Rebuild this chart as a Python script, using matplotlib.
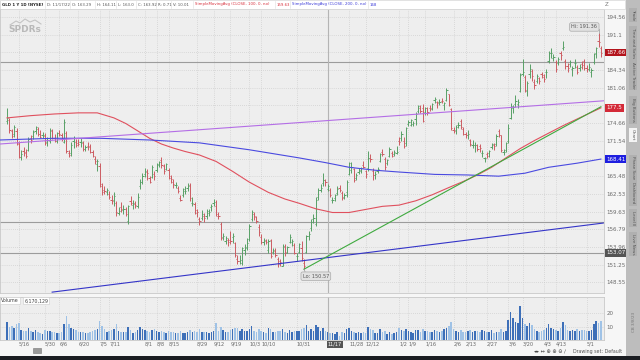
import numpy as np
import pandas as pd
import matplotlib
matplotlib.use("Agg")
import matplotlib.pyplot as plt
from matplotlib.patches import Rectangle
from matplotlib.ticker import NullLocator

# GLD daily bars, 1 year (5/6/2022 - 5/5/2023)
holidays = ["2022-05-30", "2022-06-20", "2022-07-04", "2022-09-05", "2022-11-24",
            "2022-12-26", "2023-01-02", "2023-01-16", "2023-02-20", "2023-04-07"]

opens = [175.0,
         175.2, 173.2, 172.8, 173.3, 171.0,  168.8, 169.8, 169.6, 170.0, 172.0,
         172.4, 173.2, 173.6, 172.8, 172.6,  172.4, 171.3, 171.6, 173.2,
         172.0, 171.5, 173.0, 172.6, 171.3,  173.0, 169.4, 169.5, 171.6, 171.3,
         171.2, 171.3, 171.2, 170.2,  170.6, 170.6, 169.6, 168.4, 167.6,
         167.3, 163.8, 163.2, 162.9,  162.6, 161.6, 161.6, 161.0, 159.4,
         160.4, 159.9, 160.0, 158.2, 161.4,  160.7, 160.9, 160.6, 163.8, 164.5,
         165.9, 166.2, 165.2, 165.3, 165.8,  166.6, 167.4, 168.2, 167.3, 166.7,
         166.5, 165.2, 164.6, 164.0, 163.5,  161.9, 162.3, 163.0, 163.5, 164.0,
         161.1, 160.9, 159.9, 158.4, 158.6,  158.9, 158.9, 159.5, 160.4,
         161.1, 160.6, 159.0, 157.6, 155.6,  155.0, 155.1, 155.1, 155.6, 154.6,
         152.1, 151.9, 151.5, 153.6, 154.0,  155.2, 158.4, 159.2, 158.8, 157.1,
         155.6, 154.8, 154.9, 153.6, 155.1,  153.2, 153.4, 152.2, 151.8, 151.1,
         154.0, 153.1, 154.8, 154.8, 154.3,  152.6, 153.2, 153.8, 151.5, 153.2,
         155.7, 157.0, 158.4, 157.7, 162.1,  163.2, 164.4, 164.8, 163.29, 163.2,
         161.5, 161.9, 162.7, 163.6,  162.7, 162.1, 162.8, 165.8, 166.6,
         166.7, 165.2, 166.2, 166.4, 167.4,  166.4, 166.8, 168.5, 166.4, 165.7,
         166.3, 168.1, 169.7, 168.4, 167.7,  168.9, 169.4, 169.2, 169.5,
         171.6, 172.1, 171.6, 171.1,  174.5, 174.4, 174.5, 175.4, 176.9,
         177.3, 177.3, 176.7, 177.3,  177.4, 177.2, 178.9, 178.4, 178.4,
         178.7, 178.0, 178.9, 179.9, 177.2,  173.4, 173.4, 174.3, 175.0, 173.7,
         172.8, 172.5, 171.7, 170.9, 170.8,  170.8, 170.6, 169.4, 168.5,
         169.3, 169.4, 170.5, 170.9, 171.0,  173.3, 172.5, 169.6, 169.9, 171.6,
         175.6, 177.4, 178.1, 178.1, 180.5,  183.6, 183.0, 180.4, 183.6, 184.2,
         182.1, 182.4, 182.8, 183.7, 183.1,  184.0, 186.0, 187.6, 186.7,
         185.8, 185.6, 187.5, 188.6, 186.1,  185.1, 185.4, 184.5, 185.6, 184.9,
         184.7, 185.5, 186.0, 184.8, 184.6,  184.0, 185.9, 187.5, 189.8, 188.6]

highs = [177.3,
         175.6, 173.7, 174.4, 173.8, 171.5,  170.0, 170.4, 170.2, 172.2, 172.6,
         173.4, 174.2, 174.0, 173.4, 173.1,  172.9, 172.2, 173.8, 173.6,
         172.8, 173.1, 173.5, 173.0, 175.4,  173.3, 169.9, 171.3, 172.4, 171.9,
         171.8, 172.0, 171.6, 170.9,  171.4, 171.0, 170.0, 168.9, 168.4,
         167.8, 164.4, 163.8, 163.6,  163.0, 162.4, 162.8, 161.3, 160.4,
         161.2, 160.8, 160.4, 160.8, 162.2,  161.5, 161.3, 162.7, 165.0, 166.0,
         166.8, 166.7, 165.6, 167.4, 166.3,  167.8, 168.1, 168.8, 167.6, 167.7,
         166.8, 165.7, 165.1, 164.6, 163.8,  162.4, 163.6, 163.9, 164.3, 164.3,
         162.0, 161.2, 160.1, 158.8, 159.9,  159.4, 160.0, 160.1, 160.9,
         161.7, 161.6, 159.6, 157.9, 156.2,  155.8, 155.4, 156.6, 156.2, 154.8,
         152.8, 152.8, 154.0, 154.4, 155.4,  157.6, 159.9, 159.6, 159.0, 157.6,
         156.0, 155.4, 155.3, 155.3, 155.3,  153.8, 153.8, 152.5, 152.2, 154.4,
         154.4, 154.2, 156.1, 155.3, 154.6,  153.1, 154.6, 154.9, 152.1, 155.9,
         156.6, 158.4, 159.2, 162.0, 163.5,  164.2, 166.0, 165.1, 164.11, 163.6,
         162.1, 162.6, 163.8, 164.0,  163.1, 162.7, 164.9, 167.9, 167.9,
         166.9, 166.1, 166.9, 167.1, 168.0,  166.6, 169.8, 169.2, 166.9, 166.3,
         167.0, 169.5, 170.2, 168.7, 168.4,  170.5, 169.8, 169.9, 170.6,
         172.3, 173.3, 172.2, 174.0,  175.3, 175.4, 175.1, 176.6, 177.9,
         177.9, 178.1, 177.6, 177.6,  178.0, 178.2, 179.4, 178.7, 179.0,
         179.1, 178.5, 181.1, 180.0, 177.4,  174.0, 174.3, 174.8, 175.4, 174.0,
         173.1, 173.5, 171.9, 171.7, 171.4,  171.0, 171.0, 170.0, 168.8,
         169.7, 169.9, 171.2, 171.2, 172.7,  173.7, 172.6, 170.1, 171.4, 174.5,
         178.2, 178.0, 179.7, 179.0, 183.8,  186.5, 183.4, 182.3, 185.4, 184.6,
         182.6, 183.6, 183.1, 184.0, 183.6,  184.5, 187.9, 188.5, 187.4,
         186.2, 186.8, 188.0, 189.9, 186.5,  185.6, 186.3, 185.1, 186.4, 185.3,
         185.4, 186.0, 186.4, 185.3, 185.6,  184.8, 187.5, 188.8, 191.36, 188.9]

lows = [174.6,
        173.0, 172.0, 172.3, 170.8, 168.6,  168.3, 168.9, 168.6, 169.8, 171.1,
        171.8, 172.8, 172.4, 172.0, 172.1,  170.8, 170.6, 171.2, 171.8,
        171.3, 171.1, 172.4, 171.5, 171.2,  169.4, 168.7, 168.9, 170.3, 170.4,
        170.6, 170.4, 169.8, 169.8,  170.0, 169.4, 168.7, 167.6, 166.3,
        163.7, 162.4, 162.6, 162.3,  161.7, 160.9, 160.6, 158.9, 159.1,
        159.6, 159.3, 158.9, 157.6, 160.8,  160.1, 160.2, 160.3, 163.4, 164.2,
        165.3, 164.9, 164.3, 165.2, 164.8,  166.2, 167.0, 166.9, 165.9, 166.5,
        165.0, 164.3, 163.6, 163.6, 162.7,  161.3, 162.0, 162.6, 163.1, 161.4,
        160.5, 159.3, 158.7, 157.5, 158.3,  157.9, 158.5, 159.0, 159.8,
        160.6, 158.9, 158.4, 155.1, 155.1,  154.5, 154.2, 154.4, 154.6, 152.4,
        151.3, 151.4, 151.2, 152.7, 153.5,  154.9, 158.1, 158.3, 157.8, 155.8,
        154.5, 154.3, 154.5, 153.0, 152.3,  152.9, 152.4, 150.9, 151.0, 151.0,
        152.6, 153.0, 154.6, 154.2, 152.9,  151.8, 153.0, 151.9, 150.57, 153.0,
        155.1, 156.6, 157.8, 157.4, 161.6,  162.8, 163.8, 163.9, 163.0, 162.1,
        161.0, 161.4, 162.3, 162.9,  161.6, 161.7, 162.1, 165.7, 166.1,
        164.5, 164.8, 165.8, 166.0, 166.8,  165.2, 166.3, 167.9, 164.9, 165.0,
        166.0, 167.9, 168.9, 166.6, 167.4,  168.8, 168.7, 169.0, 169.3,
        170.8, 171.5, 170.3, 170.7,  174.2, 174.2, 174.1, 174.4, 176.4,
        176.4, 174.8, 176.2, 176.2,  176.9, 177.0, 178.3, 177.3, 177.9,
        178.2, 177.0, 178.6, 177.7, 173.4,  172.9, 172.8, 173.8, 173.6, 172.5,
        172.1, 171.8, 170.7, 170.3, 169.7,  169.8, 169.6, 168.7, 167.9,
        168.6, 168.8, 170.1, 170.0, 170.7,  172.3, 169.6, 169.1, 169.6, 171.1,
        175.4, 176.5, 177.6, 177.3, 180.3,  183.2, 180.3, 179.6, 182.9, 182.4,
        180.9, 182.0, 181.8, 182.9, 182.1,  182.8, 185.6, 186.7, 186.0,
        184.0, 185.3, 186.3, 188.1, 184.6,  183.9, 184.9, 183.3, 184.8, 183.7,
        184.1, 184.6, 184.4, 184.0, 184.1,  183.0, 185.5, 186.7, 188.7, 186.9]

closes = [175.6,
          173.4, 172.4, 173.9, 171.2, 168.8,  169.3, 169.4, 169.0, 171.9, 171.7,
          173.1, 173.9, 172.8, 172.3, 172.6,  171.1, 171.7, 173.5, 172.0,
          171.6, 172.9, 172.7, 172.0, 174.9,  169.8, 169.1, 170.9, 172.0, 170.9,
          171.0, 171.4, 170.2, 170.4,  170.5, 169.6, 168.9, 168.0, 168.1,
          164.2, 162.8, 163.0, 163.2,  162.1, 161.4, 162.2, 159.6, 159.7,
          160.0, 160.1, 159.2, 160.6, 161.1,  161.0, 160.8, 162.1, 164.6, 165.6,
          166.3, 166.1, 164.6, 167.1, 165.5,  167.6, 167.9, 167.4, 166.4, 167.5,
          165.6, 165.0, 164.2, 164.0, 163.0,  161.6, 163.3, 163.1, 163.9, 161.8,
          161.1, 159.5, 159.6, 158.1, 159.3,  158.6, 159.8, 159.6, 160.5,
          161.2, 159.2, 158.9, 155.4, 155.8,  155.4, 154.8, 154.9, 155.8, 152.8,
          151.8, 152.0, 153.8, 153.8, 154.7,  157.3, 159.6, 158.9, 158.2, 156.3,
          154.8, 155.1, 154.8, 154.9, 152.6,  153.5, 152.8, 151.4, 151.6, 154.2,
          153.3, 154.0, 155.6, 154.9, 153.1,  152.6, 154.4, 152.3, 151.0, 155.7,
          156.1, 158.0, 158.6, 161.6, 163.2,  163.5, 164.9, 164.6, 163.92, 162.3,
          161.6, 162.4, 163.4, 163.2,  161.8, 162.4, 164.6, 167.7, 167.1,
          164.8, 165.7, 166.5, 166.8, 167.1,  165.8, 168.6, 168.4, 165.7, 165.9,
          166.7, 169.3, 169.3, 167.1, 168.3,  170.1, 168.9, 169.6, 169.6,
          171.4, 172.8, 170.6, 173.8,  174.8, 175.2, 174.7, 176.3, 177.8,
          176.9, 175.1, 177.4, 176.6,  177.3, 178.1, 179.0, 178.2, 178.4,
          178.6, 178.3, 180.6, 177.9, 173.8,  173.3, 173.9, 174.3, 173.9, 172.8,
          172.5, 172.8, 171.0, 170.9, 170.9,  170.2, 170.3, 169.4, 168.6,
          169.0, 169.8, 171.0, 170.6, 172.4,  172.6, 169.9, 169.7, 171.2, 173.8,
          177.8, 177.5, 178.6, 178.5, 183.5,  183.9, 180.6, 182.0, 184.6, 183.2,
          181.5, 183.3, 182.3, 183.4, 182.7,  184.0, 187.6, 187.6, 186.9,
          184.6, 186.4, 187.2, 188.7, 185.1,  184.8, 185.9, 184.7, 185.7, 184.0,
          185.0, 185.3, 184.8, 184.6, 185.0,  184.3, 187.3, 188.6, 189.7, 187.66]

# volume, millions of shares
volume = [13.0,
          9.8, 10.5, 9.0, 11.5, 12.8,  7.5, 6.8, 6.4, 9.2, 6.6,
          6.2, 7.6, 6.0, 5.3, 4.8,  7.4, 6.6, 7.0, 5.6,
          6.0, 5.3, 4.9, 6.1, 12.0,  17.6, 11.8, 9.2, 8.4, 7.2,
          5.6, 6.2, 5.8, 4.9,  5.5, 6.2, 6.6, 7.5, 7.8,
          14.0, 10.4, 7.8, 6.1,  6.6, 7.2, 8.3, 12.1, 7.0,
          6.0, 5.6, 6.3, 9.3, 7.4,  5.2, 5.6, 7.2, 9.8, 8.1,
          7.6, 6.8, 6.2, 7.4, 7.9,  6.5, 6.1, 6.8, 5.7, 5.3,
          6.7, 5.8, 5.9, 5.1, 5.4,  6.4, 5.5, 4.9, 5.6, 7.3,
          6.1, 7.0, 6.2, 8.4, 6.0,  5.7, 6.3, 5.4, 5.9,
          6.4, 12.8, 6.9, 9.9, 7.6,  6.3, 5.8, 7.4, 8.1, 9.2,
          8.8, 7.0, 8.5, 6.6, 6.9,  8.2, 10.6, 6.7, 6.2, 7.9,
          6.9, 5.9, 5.2, 8.6, 7.8,  5.6, 5.9, 6.8, 6.4, 8.5,
          6.0, 5.5, 7.2, 5.8, 6.7,  6.8, 6.5, 8.3, 9.0, 11.4,
          6.9, 7.8, 6.6, 11.2, 9.9,  6.8, 8.7, 6.5, 5.8, 5.4,
          5.1, 4.8, 5.6, 3.2,  5.9, 5.3, 8.2, 8.6, 6.7,
          6.2, 5.0, 5.8, 5.4, 5.7,  5.3, 9.4, 8.1, 7.2, 5.5,
          5.0, 8.3, 6.1, 6.8, 4.6,  5.7, 4.5, 5.2, 5.9,
          8.8, 7.6, 6.5, 8.0,  6.9, 5.8, 5.5, 7.1, 7.7,
          6.3, 8.4, 6.6, 6.8,  5.7, 6.2, 7.6, 7.0, 5.9,
          6.5, 7.8, 9.0, 10.4, 13.2,  8.3, 6.8, 6.1, 7.4, 6.2,
          5.9, 6.8, 7.5, 6.1, 6.6,  6.7, 5.8, 7.2, 6.4,
          5.6, 6.0, 7.1, 5.5, 6.2,  5.8, 8.0, 6.3, 7.0, 14.6,
          20.7, 16.0, 13.4, 12.5, 25.0,  16.5, 12.0, 10.2, 12.4, 11.0,
          8.2, 7.0, 6.3, 6.6, 7.4,  8.8, 12.0, 9.1, 7.8,
          7.7, 6.4, 8.9, 13.7, 11.3,  7.1, 6.5, 7.4, 6.9, 8.3,
          6.6, 7.1, 7.5, 6.4, 6.8,  7.3, 12.1, 13.8, 12.5, 14.0]

# moving averages (bar index, value)
sma100_idx = [0, 10, 20, 30, 38, 45, 50, 55, 60, 65, 70, 75, 81, 88, 95, 102, 110, 117,
              123, 130, 137, 144, 151, 158, 165, 172, 179, 186, 192, 198, 204, 210, 216,
              222, 228, 234, 240, 245, 250]
sma100_val = [175.6, 176.0, 176.3, 176.5, 176.5, 175.6, 174.6, 173.3, 172.0, 171.0, 170.3,
              169.7, 169.1, 168.0, 166.3, 164.5, 162.8, 161.7, 161.0, 160.1, 159.5, 159.5,
              160.0, 160.5, 160.7, 161.4, 162.4, 163.6, 164.6, 165.7, 167.0, 168.6, 170.2,
              171.6, 172.9, 174.2, 175.4, 176.4, 177.4]
sma200_idx = [-3, 20, 39, 60, 81, 102, 123, 134, 144, 155, 165, 180, 194, 207, 218, 228, 240, 250]
sma200_val = [171.7, 172.0, 172.0, 171.7, 171.2, 170.0, 168.6, 167.8, 167.0, 166.5, 166.2,
              165.8, 165.7, 165.5, 166.0, 167.0, 167.7, 168.4]

# drawn trendlines / price levels
purple_line = [(-3, 171.0), (252, 178.7)]
blue_line = [(19, 147.1), (251, 157.8)]
green_line = [(125, 150.57), (250, 177.6)]
hlines_lvls = [185.9, 157.9, 153.07]

price_ticks = [148.55, 151.25, 153.96, 156.79, 159.63, 162.53, 165.48, 168.49,
               171.54, 174.66, 177.83, 181.06, 184.34, 187.68, 191.1, 194.56]
hidden_ticks = [187.68, 177.83, 168.49]   # covered by the value bubbles

# time axis labels and the bars they sit on
date_labels = ["5/16", "5/30", "6/6", "6/20", "7/5", "7/11", "8/1", "8/8", "8/15",
               "8/29", "9/12", "9/19", "10/3", "10/10", "10/31", "11/17", "11/28",
               "12/12", "1/2", "1/9", "1/16", "2/6", "2/13", "2/27", "3/6", "3/20",
               "4/3", "4/13", "5/1"]
date_ticks = ["2022-05-13", "2022-05-31", "2022-06-08", "2022-06-21", "2022-07-05", "2022-07-11",
              "2022-08-01", "2022-08-08", "2022-08-15", "2022-08-31", "2022-09-12", "2022-09-21",
              "2022-10-03", "2022-10-10", "2022-10-31", "2022-11-17", "2022-12-01", "2022-12-12",
              "2023-01-03", "2023-01-09", "2023-01-19", "2023-02-06", "2023-02-13", "2023-02-27",
              "2023-03-10", "2023-03-20", "2023-03-31", "2023-04-10", "2023-04-27"]

days = pd.bdate_range("2022-05-06", "2023-05-05")
days = days[~days.isin(pd.to_datetime(holidays))]
x = np.arange(len(days))
o = np.array(opens); h = np.array(highs); l = np.array(lows); c = np.array(closes)

UP, DN = "#58a066", "#cc5c62"
cols = np.where(c >= o, UP, DN)

fig = plt.figure(figsize=(6.4, 3.6), dpi=100)
fig.patch.set_facecolor("#f6f6f6")

def fx(px):
    return px / 640

def fy(py):
    return 1 - py / 360

ax = fig.add_axes([0, fy(293), fx(604), (293 - 9) / 360])
vax = fig.add_axes([0, fy(340), fx(604), (340 - 297) / 360])
for a in (ax, vax):
    a.set_facecolor("#eeeeee")
    for s in a.spines.values():
        s.set_color("#c8c8c8")
        s.set_linewidth(0.6)
    a.set_xlim(-2.95, 251.3)

ax.set_yscale("log")
ax.set_ylim(146.97, 196.15)
ax.yaxis.set_minor_locator(NullLocator())
ax.set_yticks(price_ticks)
ax.set_yticklabels(["" if v in hidden_ticks else f"{v:g}" for v in price_ticks])
ax.yaxis.tick_right()
ax.tick_params(axis="y", length=0, labelsize=4, labelcolor="#6a6a6a", pad=2)
ax.set_xticks([])

# grid
tick_idx = [days.get_loc(pd.Timestamp(d)) for d in date_ticks]
for t in price_ticks:
    ax.axhline(t, color="#c4c4c4", lw=0.5, ls=(0, (1, 2)), zorder=0)
for ti in tick_idx:
    ax.axvline(ti, color="#c4c4c4", lw=0.5, ls=(0, (1, 2)), zorder=0)
    vax.axvline(ti, color="#c4c4c4", lw=0.5, ls=(0, (1, 2)), zorder=0)

for lv in hlines_lvls:
    ax.axhline(lv, color="#9c9c9c", lw=0.8, zorder=1)
ax.axvline(135, color="#b4b4b4", lw=0.8, zorder=1)
vax.axvline(135, color="#b4b4b4", lw=0.8, zorder=1)

# OHLC bars
ax.vlines(x, l, h, colors=cols, lw=0.7, zorder=3)
ax.hlines(o, x - 0.5, x, colors=cols, lw=0.7, zorder=3)
ax.hlines(c, x, x + 0.5, colors=cols, lw=0.7, zorder=3)

ax.plot(sma100_idx, sma100_val, color="#e0505e", lw=0.8, zorder=4)
ax.plot(sma200_idx, sma200_val, color="#4a4ae0", lw=0.8, zorder=4)
for pts, col in [(purple_line, "#b46ee6"), (blue_line, "#3434c8"), (green_line, "#3faa3f")]:
    ax.plot([p[0] for p in pts], [p[1] for p in pts], color=col, lw=0.8, zorder=4)

# hi / lo bubbles
ax.plot([249, 249], [191.36, 192.3], color="#999999", lw=0.5, zorder=5)
ax.text(243, 192.6, "Hi: 191.36", fontsize=3.6, color="#555555", ha="center", va="center", zorder=6,
        bbox=dict(boxstyle="round,pad=0.35", fc="#e2e2e2", ec="#aaaaaa", lw=0.5))
ax.plot([125, 126], [150.57, 149.7], color="#999999", lw=0.5, zorder=5)
ax.text(130, 149.5, "Lo: 150.57", fontsize=3.6, color="#555555", ha="center", va="center", zorder=6,
        bbox=dict(boxstyle="round,pad=0.35", fc="#e2e2e2", ec="#aaaaaa", lw=0.5))

# right axis value bubbles
for val, txt, fc in [(187.66, "187.66", "#b3141c"), (177.4, "177.5", "#d42a38"),
                     (168.4, "168.41", "#1e1ee0"), (153.07, "153.07", "#555555")]:
    ax.text(1.004, val, txt, transform=ax.get_yaxis_transform(), fontsize=4, color="white",
            ha="left", va="center", zorder=7, clip_on=False,
            bbox=dict(boxstyle="square,pad=0.25", fc=fc, ec="none"))

# volume
vcol = np.where(c >= o, "#3d6fb8", "#9fc2e6")
vax.bar(x, volume, width=0.65, color=vcol, zorder=3)
vax.set_ylim(0, 31.9)
vax.set_yticks([10, 20])
vax.set_yticklabels(["10", "20"])
vax.yaxis.tick_right()
vax.tick_params(axis="y", length=0, labelsize=4, labelcolor="#6a6a6a", pad=2)
vax.set_xticks([])
for t in (10, 20):
    vax.axhline(t, color="#c4c4c4", lw=0.5, ls=(0, (1, 2)), zorder=0)
vax.text(0.002, 0.97, "Volume", transform=vax.transAxes, fontsize=3.4, color="#444444",
         va="top", ha="left", bbox=dict(boxstyle="square,pad=0.2", fc="white", ec="#cccccc", lw=0.4))
vax.text(0.040, 0.97, "6,170,129", transform=vax.transAxes, fontsize=3.4, color="#444444",
         va="top", ha="left", bbox=dict(boxstyle="square,pad=0.2", fc="white", ec="#cccccc", lw=0.4))
fig.text(fx(634), fy(322), "CB 3/8/23", fontsize=3, color="#777777", rotation=90, ha="center", va="center")

# date labels
for s, ti in zip(date_labels, tick_idx):
    xf = fx(7 + ti * 2.376)
    if s == "11/17":
        fig.text(xf, fy(344), "11/17", fontsize=3.6, color="white", ha="left", va="center",
                 bbox=dict(boxstyle="square,pad=0.2", fc="#555555", ec="none"))
    else:
        fig.text(xf, fy(344), s, fontsize=3.6, color="#666666", ha="left", va="center")

# header strip
fig.patches.append(Rectangle((0, fy(9)), fx(625), 9 / 360, transform=fig.transFigure,
                             fc="white", ec="#d0d0d0", lw=0.4))
hdr = [("GLD 1 Y 1D [NYSE]", "#222222", 2), ("D: 11/17/22", "#555555", 47), ("O: 163.29", "#555555", 72),
       ("H: 164.11", "#555555", 97), ("L: 163.0", "#555555", 118), ("C: 163.92", "#555555", 138),
       ("R: 0.71", "#555555", 158), ("V: 10.01", "#555555", 173),
       ("SimpleMovingAvg (CLOSE, 100, 0, no)", "#d8303c", 195), ("159.63", "#d8303c", 277),
       ("SimpleMovingAvg (CLOSE, 200, 0, no)", "#3a3ad8", 292), ("168", "#3a3ad8", 370)]
for txt, col, px in hdr:
    fig.text(fx(px), fy(4.5), txt, fontsize=2.8, color=col, ha="left", va="center",
             fontweight="bold" if px == 2 else "normal")
    fig.lines.append(plt.Line2D([fx(px - 2)] * 2, [fy(1), fy(8)], transform=fig.transFigure,
                                color="#dddddd", lw=0.4))
fig.text(fx(607), fy(5), "Z", fontsize=4, color="#777777", ha="center", va="center")

# logo
fig.lines.append(plt.Line2D([fx(v) for v in (10, 16, 20, 25, 30, 35, 41)],
                            [fy(v) for v in (25, 21, 23, 19, 22, 20, 24)],
                            transform=fig.transFigure, color="#c4c4c4", lw=0.8))
fig.text(fx(8), fy(30), "SPDRs", fontsize=6.5, color="#b9b9b9", fontweight="bold",
         ha="left", va="center")

# bottom strip and taskbar
fig.text(fx(622), fy(352), "Drawing set: Default", fontsize=3.4, color="#555555", ha="right", va="center")
fig.text(fx(550), fy(352), "\u25c2\u25b8 \u2194 \u2295 \u2295 \u2296 \u2215", fontsize=3.6,
         color="#444444", ha="center", va="center")
fig.patches.append(Rectangle((fx(33), fy(353)), fx(8), 5 / 360, transform=fig.transFigure,
                             fc="#9a9a9a", ec="#777777", lw=0.4))
fig.patches.append(Rectangle((0, 0), 1, 4 / 360, transform=fig.transFigure, fc="#1b1d22", ec="none"))

# right side tab strip
fig.patches.append(Rectangle((fx(626), fy(356)), fx(14), 356 / 360, transform=fig.transFigure,
                             fc="#bdbdbd", ec="none"))
tabs = [("Trade", 15), ("Time and Sales", 43), ("Active Trader", 75), ("Big Buttons", 110),
        ("Chart", 135), ("Phase Scan", 168), ("Dashboard", 193), ("Level II", 218), ("Live News", 244)]
for name, py in tabs:
    fig.text(fx(633), fy(py), name, fontsize=3.0, color="#555555", rotation=270, ha="center", va="center",
             bbox=dict(boxstyle="square,pad=0.4", fc="#f4f4f4" if name == "Chart" else "#b0b0b0", ec="none"))

fig.savefig("out.png", dpi=100, facecolor=fig.get_facecolor())
